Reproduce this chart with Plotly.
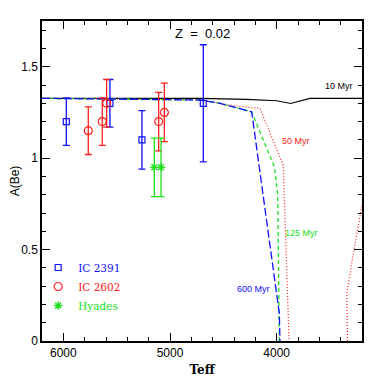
import plotly.graph_objects as go

# observed clusters: Teff, A(Be), error
ic2391_teff = [5972, 5563, 5263, 4688]
ic2391_abe = [1.20, 1.30, 1.10, 1.30]
ic2391_err = [0.13, 0.13, 0.16, 0.32]

ic2602_teff = [5766, 5635, 5594, 5106, 5053]
ic2602_abe = [1.15, 1.20, 1.30, 1.20, 1.25]
ic2602_err = [0.13, 0.13, 0.13, 0.16, 0.16]

hyades_teff = [5147, 5084]
hyades_abe = [0.95, 0.95]
hyades_err = [0.16, 0.16]

# model isochrones (Z = 0.02)
teff_10 = [6200, 4719, 4281, 4000, 3868, 3688, 3200]
abe_10 = [1.327, 1.327, 1.321, 1.314, 1.299, 1.327, 1.327]

teff_50 = [6200, 4719, 4437, 4156, 3938, 3884, None, 3336, 3343, 3275, 3200]
abe_50 = [1.327, 1.318, 1.29, 1.272, 0.96, 0.0, None, 0.0, 0.26, 0.50, 0.74]

teff_125 = [6200, 4719, 4531, 4234, 4020, 3990, 3975]
abe_125 = [1.327, 1.318, 1.30, 1.253, 0.95, 0.80, 0.0]

teff_600 = [6200, 4719, 4531, 4234, 3975, 3969]
abe_600 = [1.327, 1.318, 1.30, 1.253, 0.15, 0.0]

BLUE = '#1010ff'
RED = '#ff2020'
GREEN = '#20e020'

fig = go.Figure()

fig.add_trace(go.Scatter(x=teff_10, y=abe_10, mode='lines', showlegend=False,
                         line=dict(color='black', width=1.2)))
fig.add_trace(go.Scatter(x=teff_50, y=abe_50, mode='lines', showlegend=False,
                         line=dict(color=RED, width=1.2, dash='1px,2px')))
fig.add_trace(go.Scatter(x=teff_125, y=abe_125, mode='lines', showlegend=False,
                         line=dict(color=GREEN, width=1.3, dash='4px,3px')))
fig.add_trace(go.Scatter(x=teff_600, y=abe_600, mode='lines', showlegend=False,
                         line=dict(color=BLUE, width=1.3, dash='8px,3px')))

# data points with error bars
fig.add_trace(go.Scatter(
    x=ic2391_teff, y=ic2391_abe, mode='markers',
    name=f'<span style="color:{BLUE}">IC 2391</span>',
    marker=dict(symbol='square-open', size=6, color=BLUE, line=dict(width=1.2)),
    error_y=dict(type='data', array=ic2391_err, color=BLUE, thickness=1.3, width=3.5)))
fig.add_trace(go.Scatter(
    x=ic2602_teff, y=ic2602_abe, mode='markers',
    name=f'<span style="color:{RED}">IC 2602</span>',
    marker=dict(symbol='circle-open', size=8, color=RED, line=dict(width=1.2)),
    error_y=dict(type='data', array=ic2602_err, color=RED, thickness=1.3, width=3.5)))
fig.add_trace(go.Scatter(
    x=hyades_teff, y=hyades_abe, mode='markers',
    name=f'<span style="color:{GREEN}">Hyades</span>',
    marker=dict(symbol='asterisk-open', size=7, color=GREEN, line=dict(width=1.3, color=GREEN)),
    error_y=dict(type='data', array=hyades_err, color=GREEN, thickness=1.3, width=3.5)))

# curve labels
label_font = dict(family='Liberation Sans, Arial', size=9)
fig.add_annotation(x=3413, y=1.394, text='10 Myr', showarrow=False, font=dict(label_font, color='black'))
fig.add_annotation(x=3819, y=1.093, text='50 Myr', showarrow=False, font=dict(label_font, color=RED))
fig.add_annotation(x=3765, y=0.59, text='125 Myr', showarrow=False, font=dict(label_font, color=GREEN))
fig.add_annotation(x=4219, y=0.287, text='600 Myr', showarrow=False, font=dict(label_font, color=BLUE))
fig.add_annotation(x=4691, y=1.683, text='Z  =  0.02', showarrow=False,
                   font=dict(family='Liberation Sans, Arial', size=13, color='black'))

axis_common = dict(showline=True, linecolor='black', linewidth=1.5, mirror='allticks',
                   ticks='inside', tickcolor='black', tickwidth=1.2, ticklen=8,
                   showgrid=False, zeroline=False, automargin=False,
                   tickfont=dict(family='Liberation Sans, Arial', size=12, color='black'))

fig.update_xaxes(range=[6200, 3200], tickvals=[6000, 5000, 4000],
                 minor=dict(dtick=200, ticks='inside', ticklen=4, tickcolor='black', tickwidth=1),
                 title=dict(text='<b>Teff</b>', standoff=6,
                            font=dict(family='DejaVu Serif', size=12, color='black')),
                 **axis_common)
fig.update_yaxes(range=[0, 1.75], tickvals=[0, 0.5, 1, 1.5], ticktext=['0', '0.5', '1', '1.5'],
                 minor=dict(dtick=0.1, ticks='inside', ticklen=4, tickcolor='black', tickwidth=1),
                 title=dict(text='A(Be)', standoff=4,
                            font=dict(family='Liberation Sans, Arial', size=12, color='black')),
                 **axis_common)

# page body adds an 8px offset, so the figure is 374px and margins are shifted
fig.update_layout(
    width=374, height=374,
    margin=dict(l=34, r=20, t=13, b=41),
    plot_bgcolor='white', paper_bgcolor='white',
    showlegend=True,
    legend=dict(x=-0.012, y=0.275, xanchor='left', yanchor='top', bgcolor='rgba(0,0,0,0)',
                font=dict(family='DejaVu Serif', size=10.5), itemsizing='trace',
                tracegroupgap=0),
)

fig.write_html("out.html")
